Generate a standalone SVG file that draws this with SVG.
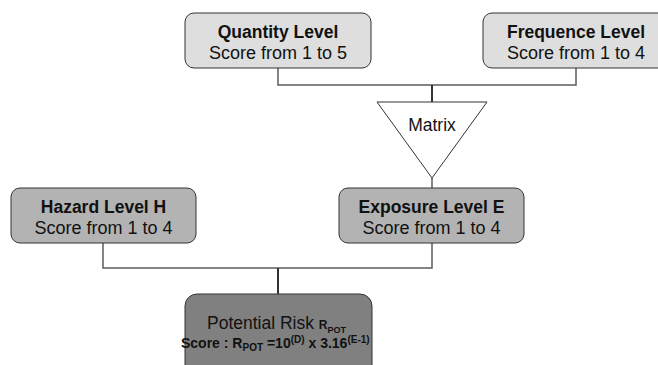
<svg xmlns="http://www.w3.org/2000/svg" width="658" height="365" viewBox="0 0 658 365">
<style>
.box{stroke:#333;stroke-width:1}
.l1{fill:#dedede}
.l2{fill:#b3b3b3}
.l3{fill:#808080}
.t{font-family:"Liberation Sans",Arial,sans-serif;font-size:18px;fill:#111;text-anchor:middle}
.b{font-weight:bold}
.conn{fill:none;stroke:#5c5c5c;stroke-width:1.5}
</style>
<rect width="658" height="365" fill="#ffffff"/>
<g id="connectors">
<polyline class="conn" points="278,68 278,85 576,85 576,68"/>
<line class="conn" x1="432" y1="85" x2="432" y2="102" style="stroke:#333;stroke-width:2"/>
<line class="conn" x1="432" y1="178" x2="432" y2="188"/>
<polyline class="conn" points="103,243 103,268 432,268 432,243"/>
<line class="conn" x1="278" y1="268" x2="278" y2="294" style="stroke:#333;stroke-width:2"/>
</g>
<g id="quantity">
<rect class="box l1" x="185" y="13" width="186" height="55" rx="9"/>
<text class="t b" x="278" y="37.5" style="font-size:17.5px">Quantity Level</text>
<text class="t" x="278" y="58.5">Score from 1 to 5</text>
</g>
<g id="frequence">
<rect class="box l1" x="483" y="13" width="186" height="55" rx="9"/>
<text class="t b" x="576" y="37.5" style="font-size:17.5px">Frequence Level</text>
<text class="t" x="576" y="58.5">Score from 1 to 4</text>
</g>
<g id="matrix">
<polygon points="377,102 487,102 432,178" fill="#ffffff" stroke="#333" stroke-width="1"/>
<text class="t" x="432" y="131" style="font-size:17.5px">Matrix</text>
</g>
<g id="hazard">
<rect class="box l2" x="11" y="188" width="185" height="55" rx="9"/>
<text class="t b" x="103.5" y="212.5" style="font-size:17.5px">Hazard Level H</text>
<text class="t" x="103.5" y="233.5">Score from 1 to 4</text>
</g>
<g id="exposure">
<rect class="box l2" x="339" y="188" width="185" height="55" rx="9"/>
<text class="t b" x="431.5" y="212.5" style="font-size:17.5px">Exposure Level E</text>
<text class="t" x="431.5" y="233.5">Score from 1 to 4</text>
</g>
<g id="potential">
<rect class="box l3" x="185" y="294" width="187" height="90" rx="12"/>
<text class="t" x="207" y="329" style="text-anchor:start;font-size:17.5px">Potential Risk <tspan class="b" style="font-size:12px">R</tspan><tspan class="b" style="font-size:9px" dy="3.5">POT</tspan></text>
<text class="t b" x="181" y="347.5" style="text-anchor:start;font-size:14px">Score : R<tspan style="font-size:10px" dy="3">POT</tspan><tspan dy="-3"> =10</tspan><tspan style="font-size:10px" dy="-5">(D)</tspan><tspan dy="5"> x 3.16</tspan><tspan style="font-size:10px" dy="-5">(E-1)</tspan></text>
</g>
</svg>
